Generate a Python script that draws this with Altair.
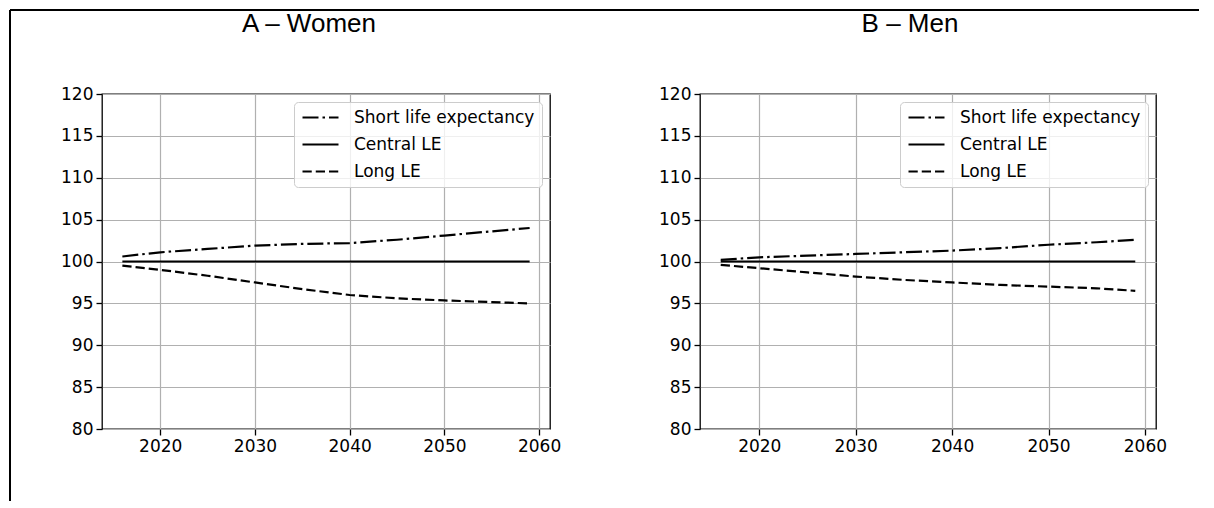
import altair as alt
import pandas as pd

years = [2016, 2020, 2025, 2030, 2035, 2040, 2045, 2050, 2055, 2059]
scenarios = ["Short life expectancy", "Central LE", "Long LE"]

women_short = [100.6, 101.1, 101.5, 101.9, 102.1, 102.2, 102.6, 103.1, 103.6, 104.0]
women_central = [100.0, 100.0, 100.0, 100.0, 100.0, 100.0, 100.0, 100.0, 100.0, 100.0]
women_long = [99.5, 99.0, 98.3, 97.5, 96.7, 96.0, 95.6, 95.35, 95.15, 95.0]

men_short = [100.2, 100.5, 100.7, 100.9, 101.1, 101.3, 101.6, 102.0, 102.3, 102.6]
men_central = [100.0, 100.0, 100.0, 100.0, 100.0, 100.0, 100.0, 100.0, 100.0, 100.0]
men_long = [99.6, 99.2, 98.7, 98.2, 97.8, 97.5, 97.2, 97.0, 96.8, 96.5]

x_ticks = [2020, 2030, 2040, 2050, 2060]
y_ticks = [80, 85, 90, 95, 100, 105, 110, 115, 120]
panel_titles = ["A \u2013 Women", "B \u2013 Men"]

dashes = [[16, 4, 2.5, 4], [1, 0], [9.25, 4]]


def make_df(short, central, long_):
    rows = []
    for name, vals in zip(scenarios, [short, central, long_]):
        for y, v in zip(years, vals):
            rows.append({"year": y, "value": v, "scenario": name})
    return pd.DataFrame(rows)


def panel(df, title, width, title_x, frame=False):
    lines = alt.Chart(df).mark_line(color="black", strokeWidth=2.2).encode(
        x=alt.X("year:Q",
                scale=alt.Scale(domain=[2013.85, 2061.15], nice=False, zero=False),
                axis=alt.Axis(values=x_ticks, format="d", title=None, labelFlush=False)),
        y=alt.Y("value:Q",
                scale=alt.Scale(domain=[80, 120], nice=False, zero=False),
                axis=alt.Axis(values=y_ticks, format="d", title=None)),
        strokeDash=alt.StrokeDash(
            "scenario:N",
            scale=alt.Scale(domain=scenarios, range=dashes),
            legend=alt.Legend(
                title=None, orient="top-right", offset=8,
                symbolType="stroke", symbolStrokeColor="black", symbolStrokeWidth=2.2,
                symbolSize=1296, clipHeight=17, rowPadding=9, labelOffset=14,
                labelFont="DejaVu Sans", labelFontSize=17, labelColor="black",
                padding=7, fillColor="rgba(255,255,255,0.8)", strokeColor="#cccccc",
                cornerRadius=4, labelLimit=400,
            ),
        ),
        detail="scenario:N",
    )
    one = pd.DataFrame({"t": [title]})
    head = alt.Chart(one).mark_text(
        font="Liberation Sans", fontSize=26, color="black",
        align="center", baseline="alphabetic",
    ).encode(text="t:N", x=alt.value(title_x), y=alt.value(-62))
    layers = [lines, head]
    if frame:
        top = alt.Chart(one).mark_rule(color="black", strokeWidth=2).encode(
            x=alt.value(-92), x2=alt.value(1097), y=alt.value(-84))
        left = alt.Chart(one).mark_rule(color="black", strokeWidth=2).encode(
            x=alt.value(-92), y=alt.value(-84), y2=alt.value(407))
        layers = [top, left, lines, head]
    return alt.layer(*layers).properties(width=width, height=335)


left_panel = panel(make_df(women_short, women_central, women_long), panel_titles[0], 448, 207, frame=True)
right_panel = panel(make_df(men_short, men_central, men_long), panel_titles[1], 456, 210)

chart = alt.hconcat(left_panel, right_panel, spacing=150, bounds="flush").resolve_scale(
    strokeDash="independent"
).resolve_legend(strokeDash="independent").properties(
    padding=0
).configure_view(
    stroke="black", strokeWidth=1.3
).configure_axis(
    grid=True, gridColor="#b0b0b0", gridWidth=1.2, domain=False,
    tickColor="black", tickSize=6, tickWidth=1.3,
    labelFont="DejaVu Sans", labelFontSize=17, labelColor="black", labelPadding=3,
)

chart.save("out.html", embed_options={"renderer": "svg", "actions": False})
